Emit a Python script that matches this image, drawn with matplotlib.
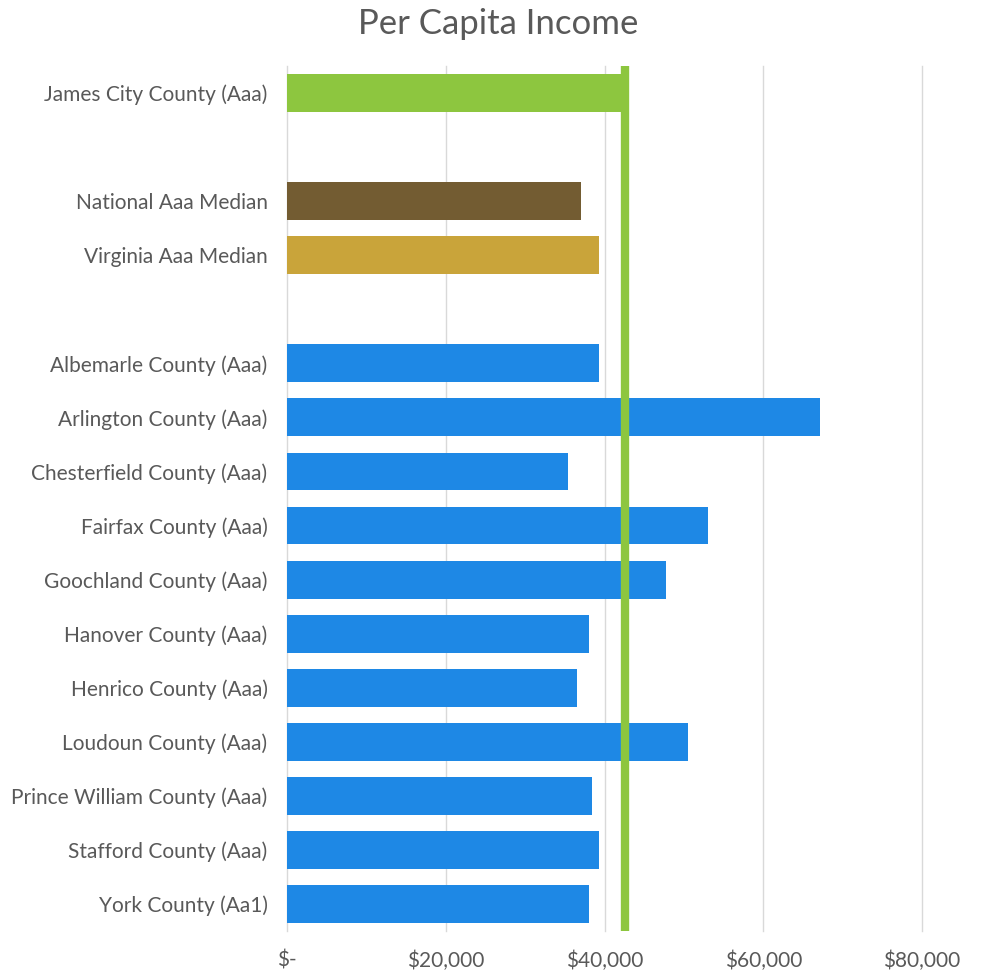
import numpy as np
import matplotlib.pyplot as plt

# Lignes du graphique (les chaînes vides laissent un espace)
labels = ["James City County (Aaa)", "",
          "National Aaa Median", "Virginia Aaa Median", "",
          "Albemarle County (Aaa)", "Arlington County (Aaa)",
          "Chesterfield County (Aaa)", "Fairfax County (Aaa)",
          "Goochland County (Aaa)", "Hanover County (Aaa)",
          "Henrico County (Aaa)", "Loudoun County (Aaa)",
          "Prince William County (Aaa)", "Stafford County (Aaa)",
          "York County (Aa1)"]
income = [43000, 0,
          37000, 39300, 0,
          39300, 67100, 35400, 53100, 47700,
          38000, 36500, 50500, 38400, 39300, 38100]
groups = ["jcc", "", "nat", "va", "",
          "cty", "cty", "cty", "cty", "cty", "cty", "cty", "cty", "cty", "cty", "cty"]
jcc_line = 42600
xticks = [0, 20000, 40000, 60000, 80000]
xtick_labels = ["$-", "$20,000", "$40,000", "$60,000", "$80,000"]

couleurs = {"jcc": "#8DC63F", "nat": "#735C32", "va": "#C9A43A", "cty": "#1E88E5", "": "none"}

plt.rcParams['font.family'] = ['Lato', 'DejaVu Sans']

fig = plt.figure(figsize=(9.82, 9.71), dpi=100)
ax = fig.add_axes([287/982, 1-931/971, (922-287)/982, (931-66)/971])

y = np.arange(len(labels))
ax.barh(y, income, height=0.7, color=[couleurs[g] for g in groups], zorder=2)
ax.axvline(jcc_line, color="#8DC63F", linewidth=6, zorder=3)

ax.set_ylim(len(labels) - 0.5, -0.5)
ax.set_xlim(0, 80000)
ax.set_xticks(xticks)
ax.set_xticklabels(xtick_labels)
ax.set_yticks(y)
ax.set_yticklabels(labels)
ax.xaxis.grid(True, color="#D9D9D9", linewidth=1, zorder=0)
for gl in ax.get_xgridlines():
    gl.set_clip_on(False)
ax.set_axisbelow(True)
for s in ax.spines.values():
    s.set_visible(False)
ax.tick_params(axis="both", length=0, labelsize=15, labelcolor="#595959")
ax.tick_params(axis="x", pad=14)
ax.tick_params(axis="y", pad=14)

fig.text(498/982, 1 - 24/971, "Per Capita Income", ha="center", va="center",
         fontsize=25, color="#595959")

fig.savefig("out.png", dpi=100)
